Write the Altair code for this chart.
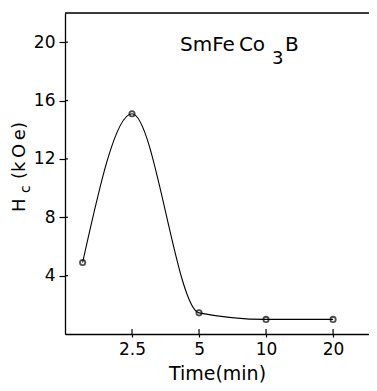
import altair as alt
import pandas as pd

# data
times = [1.5, 2.5, 5, 10, 20]
hc = [4.9, 15.1, 1.45, 1.0, 1.0]
x_ticks = [2.5, 5, 10, 20]
y_ticks = [4, 8, 12, 16, 20]
formula_parts = ["SmFe\u2009Co", "3", "B"]
ytitle_parts = ["H", "c", "(k\u2009O\u2009e)"]
x_title = "Time(min)"

W, H = 304, 321
FONT = "DejaVu Sans"

df = pd.DataFrame({"t": times, "h": hc})
xs = alt.Scale(type="log", domain=[1.25, 29.0], nice=False)
ys = alt.Scale(domain=[0, 22], nice=False, zero=False)

x_axis = alt.Axis(values=x_ticks, format="~g", grid=False, tickSize=3, tickColor="black",
                  tickWidth=1.2, domainColor="black", domainWidth=1.3, labelFont=FONT,
                  labelFontSize=17, labelColor="black", labelPadding=4, title=x_title,
                  titleFont=FONT, titleFontSize=19, titleFontWeight="normal",
                  titleColor="black", titlePadding=7, labelFlush=False)
y_axis = alt.Axis(values=y_ticks, grid=False, tickSize=6, tickColor="black", tickWidth=1.2,
                  domainColor="black", domainWidth=1.3, labelFont=FONT, labelFontSize=17,
                  labelColor="black", labelPadding=4, title=None)

line = alt.Chart(df).mark_line(color="black", strokeWidth=1.1, interpolate="monotone").encode(
    x=alt.X("t:Q", scale=xs, axis=x_axis),
    y=alt.Y("h:Q", scale=ys, axis=y_axis),
)
pts = alt.Chart(df).mark_point(shape="circle", filled=False, color="black", size=28,
                               strokeWidth=1.8).encode(
    x=alt.X("t:Q", scale=xs), y=alt.Y("h:Q", scale=ys))

# inward halves of the crossing ticks
xt = alt.Chart(pd.DataFrame({"v": x_ticks})).mark_rule(color="black", strokeWidth=1.2).encode(
    x=alt.X("v:Q", scale=xs), y=alt.value(H), y2=alt.value(H - 5))
yt = alt.Chart(pd.DataFrame({"v": y_ticks})).mark_rule(color="black", strokeWidth=1.2).encode(
    y=alt.Y("v:Q", scale=ys), x=alt.value(0), x2=alt.value(3))

top = alt.Chart(pd.DataFrame({"a": [0]})).mark_rule(color="black", strokeWidth=1.3).encode(
    x=alt.value(0), x2=alt.value(W), y=alt.value(0))


def txt(s, x, y, size, angle=0):
    return alt.Chart(pd.DataFrame({"s": [s]})).mark_text(
        font=FONT, fontSize=size, color="black", align="left", baseline="alphabetic",
        angle=angle).encode(text="s:N", x=alt.value(x), y=alt.value(y))


labels = [
    txt(formula_parts[0], 115, 37.5, 20),
    txt(formula_parts[1], 207, 51, 18),
    txt(formula_parts[2], 220, 37.5, 20),
    txt(ytitle_parts[0], -40, 199, 18, 270),
    txt(ytitle_parts[1], -35, 180, 14, 270),
    txt(ytitle_parts[2], -40, 166, 18, 270),
]

chart = alt.layer(top, xt, yt, line, pts, *labels).properties(
    width=W, height=H,
    autosize=alt.AutoSizeParams(type="none"),
    padding={"left": 57, "top": 5, "right": 0, "bottom": 55},
).configure_view(stroke=None).configure(background="white")

chart.save("out.html", embed_options={"renderer": "svg", "actions": False})
